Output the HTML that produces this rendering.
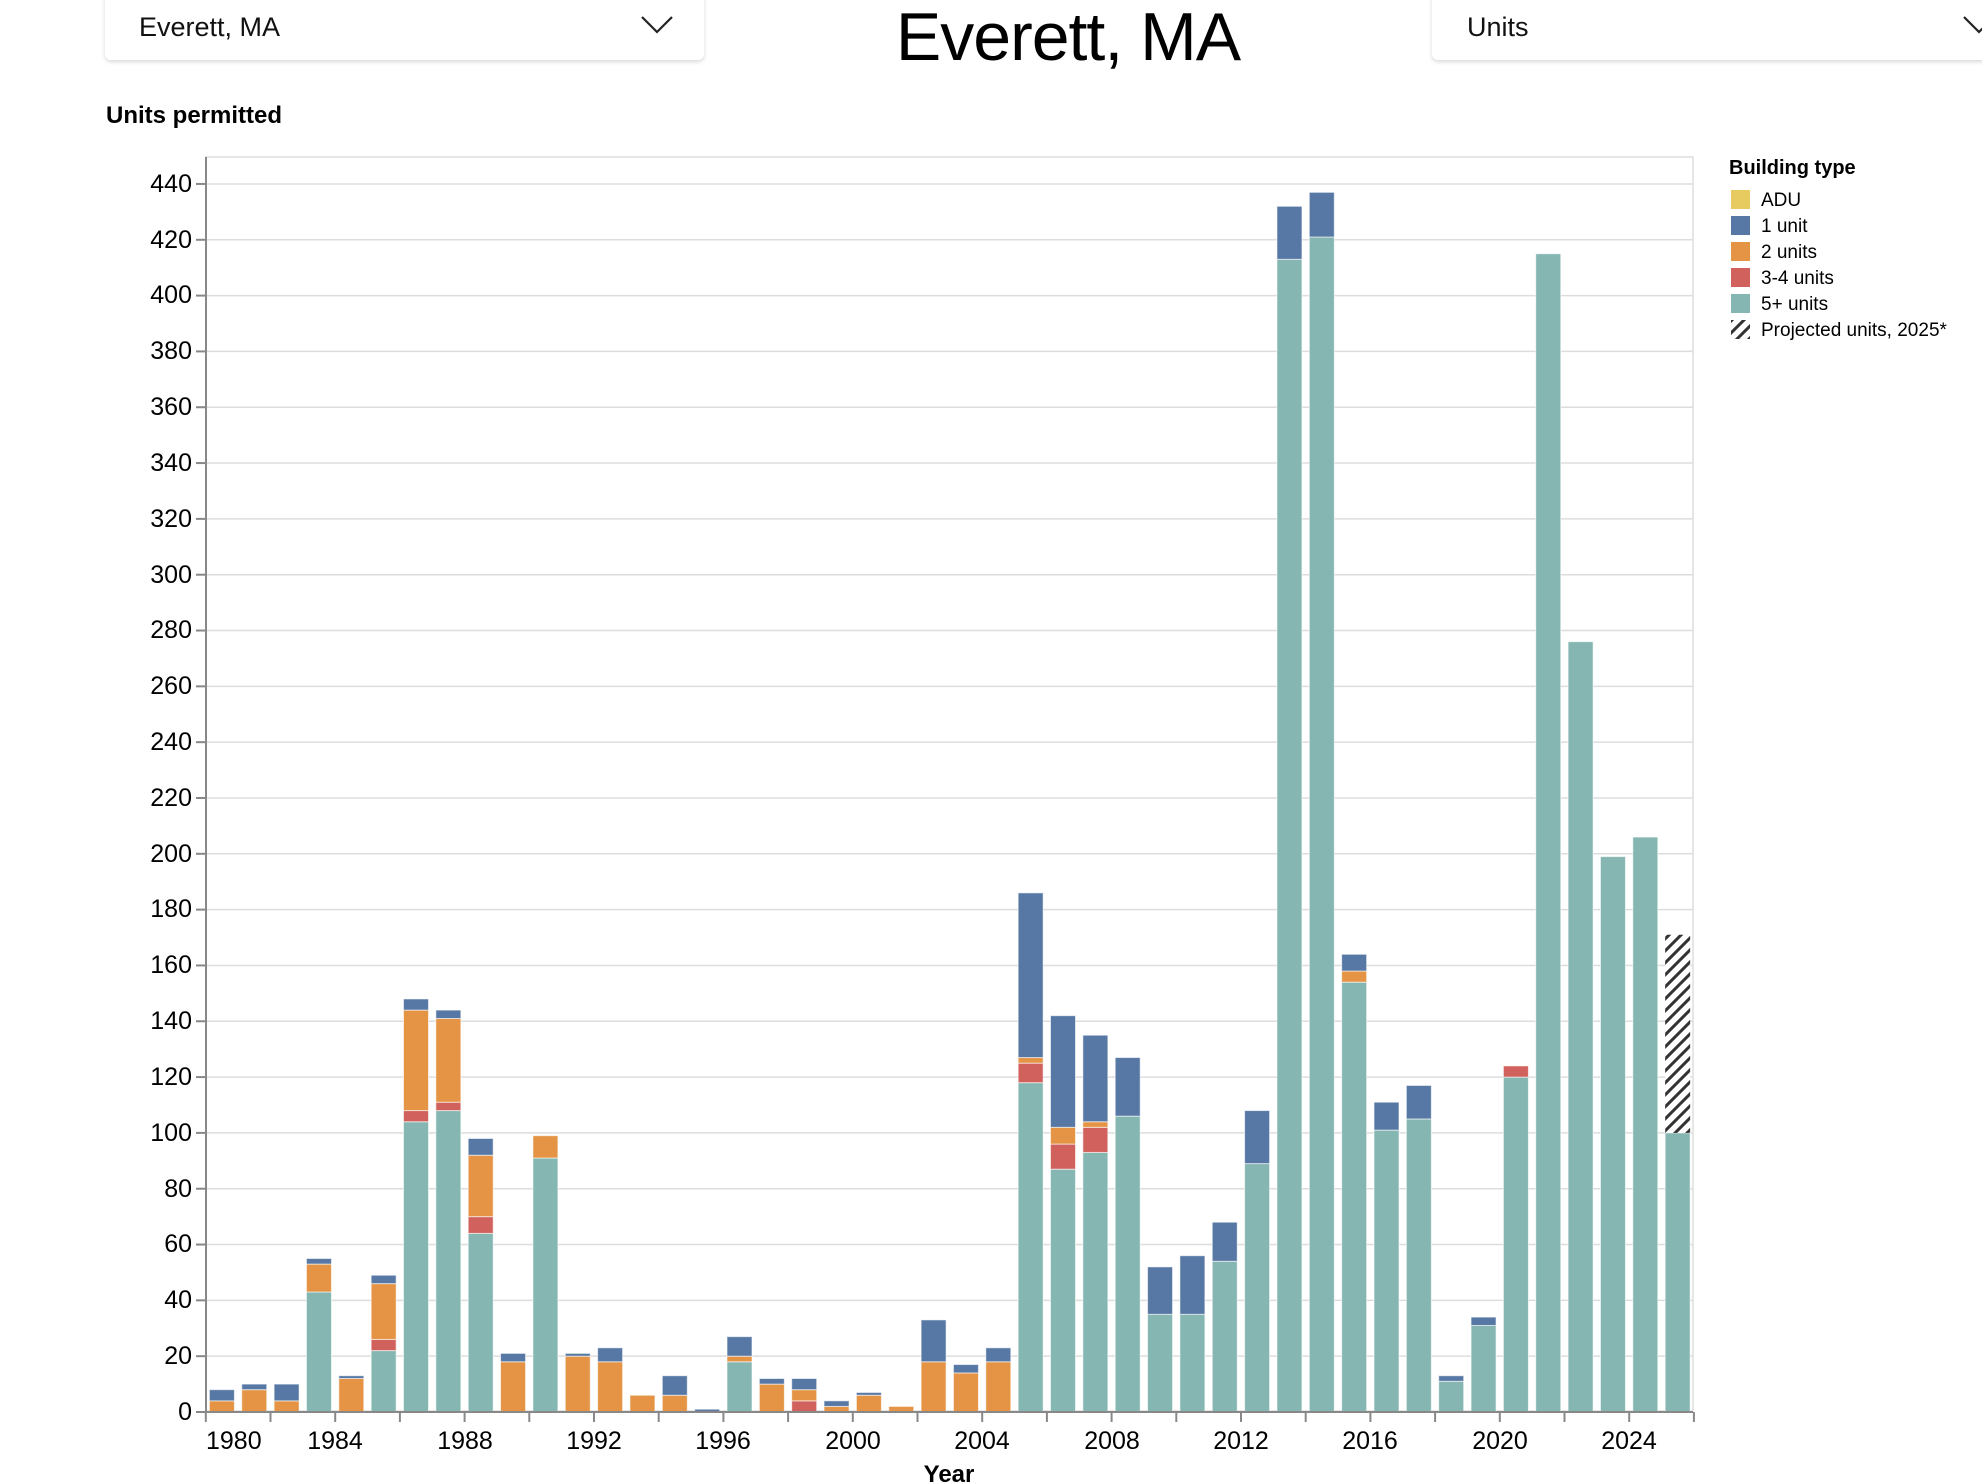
<!DOCTYPE html>
<html><head><meta charset="utf-8">
<style>
body{margin:0;width:1982px;height:1484px;background:#fff;overflow:hidden;position:relative;font-family:"Liberation Sans",sans-serif;}
.dd{position:absolute;top:-10px;height:70px;background:#fff;border-radius:6px;box-shadow:0 2px 4px rgba(0,0,0,0.15);}
.dd span{position:absolute;top:22px;font-size:27px;color:#111;}
</style></head><body>
<div class="dd" style="left:105px;width:599px;"><span style="left:34px;">Everett, MA</span>
<svg style="position:absolute;left:535px;top:24px" width="34" height="20"><polyline points="2,3 17,18 32,3" fill="none" stroke="#222" stroke-width="2.2"/></svg></div>
<div style="position:absolute;left:868px;width:400px;top:-2px;text-align:center;font-size:68px;letter-spacing:-1px;color:#000;">Everett, MA</div>
<div class="dd" style="left:1432px;width:600px;"><span style="left:35px;">Units</span>
<svg style="position:absolute;left:530px;top:24px" width="34" height="20"><polyline points="2,3 17,18 32,3" fill="none" stroke="#222" stroke-width="2.2"/></svg></div>
<div style="position:absolute;left:106px;top:102px;font-size:24px;font-weight:bold;">Units permitted</div>

<svg id="ch" width="1982" height="1484" style="position:absolute;left:0;top:0" font-family="Liberation Sans, sans-serif">
<defs><pattern id="hatch" patternUnits="userSpaceOnUse" width="12" height="12"><rect width="12" height="12" fill="#fff"/><path d="M-3,3 L3,-3 M0,12 L12,0 M9,15 L15,9" stroke="#333" stroke-width="3"/></pattern></defs>
<g id="grid"></g>
<rect x="206" y="157" width="1487" height="1254" fill="none" stroke="#ddd" stroke-width="1.5"/>
<g id="bars"></g>
<line x1="206" y1="1412" x2="1693" y2="1412" stroke="#888" stroke-width="2"/>
<line x1="206" y1="157" x2="206" y2="1412" stroke="#888" stroke-width="2"/>
<g id="ticks" stroke="#888" stroke-width="2"></g>
<g font-size="25" text-anchor="end" fill="#000">
<text x="192" y="1420">0</text><text x="192" y="1364">20</text><text x="192" y="1308">40</text><text x="192" y="1252">60</text><text x="192" y="1197">80</text><text x="192" y="1141">100</text><text x="192" y="1085">120</text><text x="192" y="1029">140</text><text x="192" y="973">160</text><text x="192" y="917">180</text><text x="192" y="862">200</text><text x="192" y="806">220</text><text x="192" y="750">240</text><text x="192" y="694">260</text><text x="192" y="638">280</text><text x="192" y="583">300</text><text x="192" y="527">320</text><text x="192" y="471">340</text><text x="192" y="415">360</text><text x="192" y="359">380</text><text x="192" y="303">400</text><text x="192" y="248">420</text><text x="192" y="192">440</text>
</g>
<g font-size="25" text-anchor="middle" fill="#000">
<text x="206" y="1449" text-anchor="start">1980</text><text x="335" y="1449">1984</text><text x="465" y="1449">1988</text><text x="594" y="1449">1992</text><text x="723" y="1449">1996</text><text x="853" y="1449">2000</text><text x="982" y="1449">2004</text><text x="1112" y="1449">2008</text><text x="1241" y="1449">2012</text><text x="1370" y="1449">2016</text><text x="1500" y="1449">2020</text><text x="1629" y="1449">2024</text>
</g>
<text x="949" y="1482" font-size="24" font-weight="bold" text-anchor="middle">Year</text>
<g font-size="19">
<text x="1729" y="174" font-size="20" font-weight="bold">Building type</text>
<rect x="1731" y="190" width="19" height="19" fill="#e7ca60"/><text x="1761" y="206">ADU</text>
<rect x="1731" y="216" width="19" height="19" fill="#5778a4"/><text x="1761" y="232">1 unit</text>
<rect x="1731" y="242" width="19" height="19" fill="#e49444"/><text x="1761" y="258">2 units</text>
<rect x="1731" y="268" width="19" height="19" fill="#d1615d"/><text x="1761" y="284">3-4 units</text>
<rect x="1731" y="294" width="19" height="19" fill="#85b6b2"/><text x="1761" y="310">5+ units</text>
<rect x="1731" y="320" width="19" height="19" fill="url(#hatch)"/><text x="1761" y="336">Projected units, 2025*</text>
</g>
</svg>
<script>
var NS="http://www.w3.org/2000/svg";
function el(p,t,a){var e=document.createElementNS(NS,t);for(var k in a)e.setAttribute(k,a[k]);p.appendChild(e);return e;}
var Y=function(v){return 1412-v*2.791;};
var g=document.getElementById('grid');
for(var v=20;v<=440;v+=20)el(g,'line',{x1:206,x2:1693,y1:Y(v),y2:Y(v),stroke:'#ddd','stroke-width':1.5});
var tk=document.getElementById('ticks');
for(var v=0;v<=440;v+=20)el(tk,'line',{x1:196,x2:206,y1:Y(v),y2:Y(v)});
for(var yr=1980;yr<=2026;yr+=2){var x=205.8+(yr-1980)*32.35;el(tk,'line',{x1:x,x2:x,y1:1412,y2:1422});}
var D={1980:[0,0,4,4],1981:[0,0,8,2],1982:[0,0,4,6],1983:[43,0,10,2],1984:[0,0,12,1],1985:[22,4,20,3],1986:[104,4,36,4],1987:[108,3,30,3],1988:[64,6,22,6],1989:[0,0,18,3],1990:[91,0,8,0],1991:[0,0,20,1],1992:[0,0,18,5],1993:[0,0,6,0],1994:[0,0,6,7],1995:[0,0,0,1],1996:[18,0,2,7],1997:[0,0,10,2],1998:[0,4,4,4],1999:[0,0,2,2],2000:[0,0,6,1],2001:[0,0,2,0],2002:[0,0,18,15],2003:[0,0,14,3],2004:[0,0,18,5],2005:[118,7,2,59],2006:[87,9,6,40],2007:[93,9,2,31],2008:[106,0,0,21],2009:[35,0,0,17],2010:[35,0,0,21],2011:[54,0,0,14],2012:[89,0,0,19],2013:[413,0,0,19],2014:[421,0,0,16],2015:[154,0,4,6],2016:[101,0,0,10],2017:[105,0,0,12],2018:[11,0,0,2],2019:[31,0,0,3],2020:[120,4,0,0],2021:[415,0,0,0],2022:[276,0,0,0],2023:[199,0,0,0],2024:[206,0,0,0],2025:[100,0,0,0]};
var C=['#85b6b2','#d1615d','#e49444','#5778a4'];
var b=document.getElementById('bars');
for(var yr=1980;yr<=2025;yr++){var x=205.8+(yr-1980)*32.35+3.6,acc=0,d=D[yr];
 for(var i=0;i<4;i++){if(!d[i])continue;el(b,'rect',{x:x,width:25,y:Y(acc+d[i]),height:d[i]*2.791,fill:C[i],stroke:'#fff','stroke-opacity':0.6,'stroke-width':1});acc+=d[i];}
 if(yr==2025)el(b,'rect',{x:x,width:25,y:Y(171),height:71*2.791,fill:'url(#hatch)'});}
</script>
</body></html>
